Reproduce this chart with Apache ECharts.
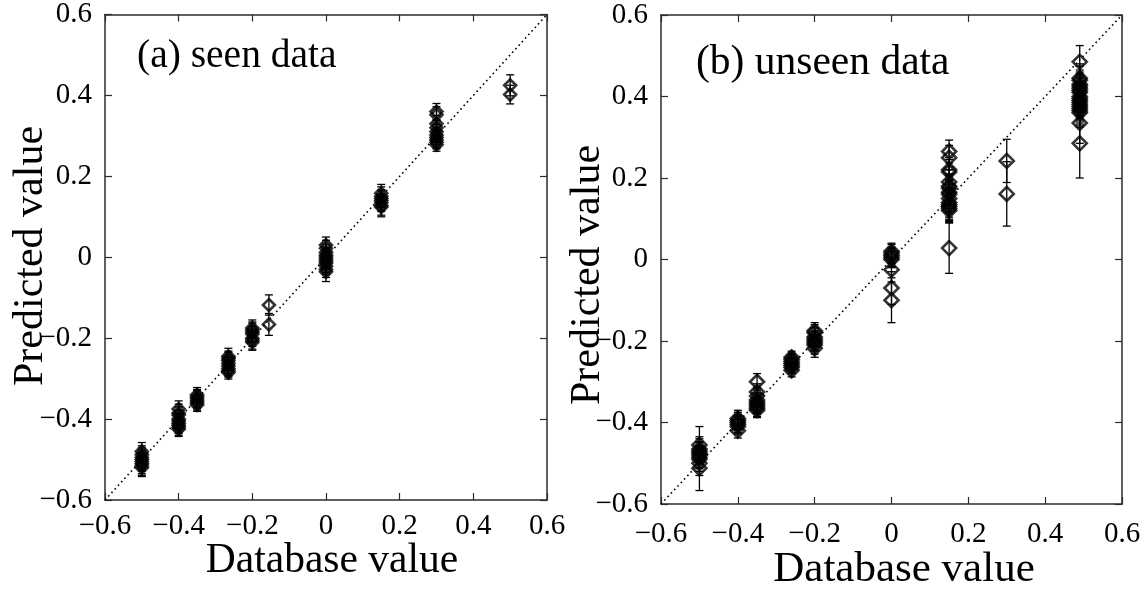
<!DOCTYPE html>
<html>
<head>
<meta charset="utf-8">
<script src="https://cdn.jsdelivr.net/npm/echarts@6/dist/echarts.min.js"></script>
<style>
  html, body { margin: 0; padding: 0; background: #fff; }
  #chart { width: 1146px; height: 592px; }
</style>
</head>
<body>
<div id="chart"></div>
<script>
// Axis range shared by both panels (database value vs predicted value)
const axisMin = -0.6;
const axisMax = 0.6;
const axisStep = 0.2;

const panelTitles = ['(a) seen data', '(b) unseen data'];
const xAxisTitle = 'Database value';
const yAxisTitle = 'Predicted value';

// [database value, predicted value, error half-width]
const seenPoints = [
  [-0.5, -0.480, 0.022], [-0.5, -0.488, 0.022], [-0.5, -0.495, 0.024], [-0.5, -0.500, 0.024],
  [-0.5, -0.505, 0.024], [-0.5, -0.510, 0.025], [-0.5, -0.515, 0.024], [-0.5, -0.520, 0.022],
  [-0.4, -0.375, 0.020], [-0.4, -0.385, 0.022], [-0.4, -0.390, 0.020], [-0.4, -0.400, 0.022],
  [-0.4, -0.405, 0.020], [-0.4, -0.410, 0.022], [-0.4, -0.415, 0.020], [-0.4, -0.420, 0.020],
  [-0.4, -0.425, 0.018],
  [-0.35, -0.340, 0.018], [-0.35, -0.345, 0.018], [-0.35, -0.350, 0.020], [-0.35, -0.355, 0.018],
  [-0.35, -0.360, 0.018], [-0.35, -0.365, 0.016],
  [-0.265, -0.245, 0.020], [-0.265, -0.250, 0.018], [-0.265, -0.255, 0.020], [-0.265, -0.262, 0.018],
  [-0.265, -0.268, 0.020], [-0.265, -0.275, 0.018], [-0.265, -0.280, 0.016], [-0.265, -0.285, 0.016],
  [-0.2, -0.175, 0.020], [-0.2, -0.180, 0.020], [-0.2, -0.185, 0.022], [-0.2, -0.190, 0.020],
  [-0.2, -0.200, 0.020], [-0.2, -0.205, 0.022], [-0.2, -0.210, 0.020],
  [-0.155, -0.118, 0.025], [-0.155, -0.166, 0.027],
  [0, 0.030, 0.020], [0, 0.022, 0.020], [0, 0.012, 0.020], [0, 0.005, 0.020], [0, 0.000, 0.022],
  [0, -0.005, 0.020], [0, -0.010, 0.020], [0, -0.015, 0.022], [0, -0.022, 0.020], [0, -0.030, 0.020],
  [0, -0.036, 0.024],
  [0.15, 0.158, 0.022], [0.15, 0.150, 0.024], [0.15, 0.145, 0.022], [0.15, 0.140, 0.024],
  [0.15, 0.135, 0.022], [0.15, 0.128, 0.024], [0.15, 0.124, 0.024],
  [0.3, 0.360, 0.020], [0.3, 0.352, 0.020], [0.3, 0.330, 0.020], [0.3, 0.320, 0.018],
  [0.3, 0.310, 0.018], [0.3, 0.302, 0.018], [0.3, 0.296, 0.018], [0.3, 0.290, 0.018],
  [0.3, 0.284, 0.016], [0.3, 0.278, 0.016],
  [0.5, 0.425, 0.026], [0.5, 0.402, 0.023]
];

const unseenPoints = [
  [-0.5, -0.455, 0.045], [-0.5, -0.465, 0.030], [-0.5, -0.470, 0.030], [-0.5, -0.475, 0.028],
  [-0.5, -0.480, 0.030], [-0.5, -0.485, 0.028], [-0.5, -0.490, 0.030], [-0.5, -0.500, 0.030],
  [-0.5, -0.512, 0.055],
  [-0.4, -0.390, 0.020], [-0.4, -0.395, 0.020], [-0.4, -0.400, 0.018], [-0.4, -0.405, 0.020],
  [-0.4, -0.410, 0.018], [-0.4, -0.420, 0.018],
  [-0.35, -0.300, 0.020], [-0.35, -0.325, 0.020], [-0.35, -0.335, 0.020], [-0.35, -0.345, 0.018],
  [-0.35, -0.350, 0.020], [-0.35, -0.355, 0.020], [-0.35, -0.360, 0.018], [-0.35, -0.365, 0.020],
  [-0.35, -0.370, 0.018],
  [-0.26, -0.240, 0.015], [-0.26, -0.245, 0.015], [-0.26, -0.250, 0.016], [-0.26, -0.255, 0.015],
  [-0.26, -0.260, 0.016], [-0.26, -0.265, 0.015], [-0.26, -0.272, 0.016],
  [-0.2, -0.175, 0.020], [-0.2, -0.180, 0.020], [-0.2, -0.190, 0.022], [-0.2, -0.195, 0.020],
  [-0.2, -0.200, 0.022], [-0.2, -0.205, 0.020], [-0.2, -0.210, 0.022], [-0.2, -0.218, 0.022],
  [0, 0.020, 0.020], [0, 0.015, 0.022], [0, 0.010, 0.020], [0, 0.005, 0.022], [0, 0.000, 0.020],
  [0, -0.025, 0.030], [0, -0.070, 0.040], [0, -0.100, 0.055],
  [0.15, 0.265, 0.028], [0.15, 0.250, 0.030], [0.15, 0.220, 0.030], [0.15, 0.215, 0.030],
  [0.15, 0.190, 0.030], [0.15, 0.180, 0.030], [0.15, 0.175, 0.030], [0.15, 0.165, 0.032],
  [0.15, 0.160, 0.034], [0.15, 0.150, 0.034], [0.15, 0.140, 0.036], [0.15, 0.135, 0.036],
  [0.15, 0.130, 0.034], [0.15, 0.125, 0.032], [0.15, 0.120, 0.030], [0.15, 0.028, 0.062],
  [0.3, 0.242, 0.053], [0.3, 0.161, 0.079],
  [0.49, 0.485, 0.040], [0.49, 0.445, 0.035], [0.49, 0.440, 0.035], [0.49, 0.430, 0.035],
  [0.49, 0.425, 0.035], [0.49, 0.420, 0.035], [0.49, 0.415, 0.035], [0.49, 0.410, 0.035],
  [0.49, 0.400, 0.035], [0.49, 0.395, 0.035], [0.49, 0.390, 0.035], [0.49, 0.385, 0.035],
  [0.49, 0.380, 0.035], [0.49, 0.375, 0.035], [0.49, 0.370, 0.035], [0.49, 0.365, 0.035],
  [0.49, 0.360, 0.035], [0.49, 0.335, 0.050], [0.49, 0.285, 0.085]
];

const identityLine = [[axisMin, axisMin], [axisMax, axisMax]];

const serif = "Liberation Serif";
const ink = '#000';
const frame = '#2b2b2b';
const tickFontSize = 29;

function tickText(v) {
  if (Math.abs(v) < 1e-9) return '{t|0}';
  return '{t|' + (v < 0 ? '\u2212' : '') + Math.abs(v).toFixed(1) + '}';
}

function valueAxis(gridIndex, position, showLabels, margin) {
  return {
    type: 'value',
    gridIndex: gridIndex,
    position: position,
    min: axisMin,
    max: axisMax,
    interval: axisStep,
    axisLine: { show: true, onZero: false, lineStyle: { color: frame, width: 1.5 } },
    axisTick: { show: true, inside: true, length: 7, lineStyle: { color: frame, width: 1.2 } },
    axisLabel: {
      show: showLabels,
      margin: margin,
      fontFamily: serif,
      fontSize: tickFontSize,
      color: ink,
      hideOverlap: false,
      formatter: tickText,
      rich: { t: { fontFamily: serif, fontSize: tickFontSize, color: ink } }
    },
    splitLine: { show: false }
  };
}

function renderErrorBar(params, api) {
  const x = api.value(0);
  const y = api.value(1);
  const e = api.value(2);
  const hi = api.coord([x, y + e]);
  const lo = api.coord([x, y - e]);
  const cap = 4;
  const style = { stroke: ink, lineWidth: 1.3 };
  return {
    type: 'group',
    children: [
      { type: 'line', shape: { x1: hi[0], y1: hi[1], x2: lo[0], y2: lo[1] }, style: style },
      { type: 'line', shape: { x1: hi[0] - cap, y1: hi[1], x2: hi[0] + cap, y2: hi[1] }, style: style },
      { type: 'line', shape: { x1: lo[0] - cap, y1: lo[1], x2: lo[0] + cap, y2: lo[1] }, style: style }
    ]
  };
}

function panelSeries(points, axisIndex, markerSize) {
  return [
    {
      type: 'line',
      xAxisIndex: axisIndex,
      yAxisIndex: axisIndex,
      data: identityLine,
      symbol: 'none',
      silent: true,
      lineStyle: { color: ink, width: 1.6, type: [1.6, 3.2] },
      z: 1
    },
    {
      type: 'custom',
      xAxisIndex: axisIndex,
      yAxisIndex: axisIndex,
      data: points,
      encode: { x: 0, y: 1 },
      renderItem: renderErrorBar,
      z: 2
    },
    {
      type: 'scatter',
      xAxisIndex: axisIndex,
      yAxisIndex: axisIndex,
      data: points.map(p => [p[0], p[1]]),
      symbol: 'diamond',
      symbolSize: markerSize,
      itemStyle: { color: 'rgba(0,0,0,0)', borderColor: ink, borderWidth: 2.6 },
      z: 3
    }
  ];
}

const chart = echarts.init(document.getElementById('chart'), null, { renderer: 'canvas' });

chart.setOption({
  animation: false,
  backgroundColor: '#fff',
  grid: [
    { left: 105, top: 14, width: 442, height: 486, show: false },
    { left: 661, top: 15, width: 461, height: 489, show: false }
  ],
  xAxis: [
    valueAxis(0, 'bottom', true, 12),
    valueAxis(0, 'top', false, 8),
    valueAxis(1, 'bottom', true, 16),
    valueAxis(1, 'top', false, 8)
  ],
  yAxis: [
    valueAxis(0, 'left', true, 13),
    valueAxis(0, 'right', false, 8),
    valueAxis(1, 'left', true, 13),
    valueAxis(1, 'right', false, 8)
  ],
  graphic: [
    { type: 'text', x: 137, y: 57, style: { text: panelTitles[0], font: "39.5px " + serif, fill: ink, textAlign: 'left', textVerticalAlign: 'middle' } },
    { type: 'text', x: 696, y: 63, style: { text: panelTitles[1], font: "41.5px " + serif, fill: ink, textAlign: 'left', textVerticalAlign: 'middle' } },
    { type: 'text', x: 332, y: 561, style: { text: xAxisTitle, font: "41.5px " + serif, fill: ink, textAlign: 'center', textVerticalAlign: 'middle' } },
    { type: 'text', x: 904, y: 570, style: { text: xAxisTitle, font: "43px " + serif, fill: ink, textAlign: 'center', textVerticalAlign: 'middle' } },
    { type: 'text', x: 31, y: 256, rotation: Math.PI / 2, style: { text: yAxisTitle, font: "42px " + serif, fill: ink, textAlign: 'center', textVerticalAlign: 'middle' } },
    { type: 'text', x: 588, y: 275, rotation: Math.PI / 2, style: { text: yAxisTitle, font: "42px " + serif, fill: ink, textAlign: 'center', textVerticalAlign: 'middle' } }
  ],
  series: [].concat(
    panelSeries(seenPoints, 0, 12),
    panelSeries(unseenPoints, 2, 14)
  )
});
</script>
</body>
</html>
